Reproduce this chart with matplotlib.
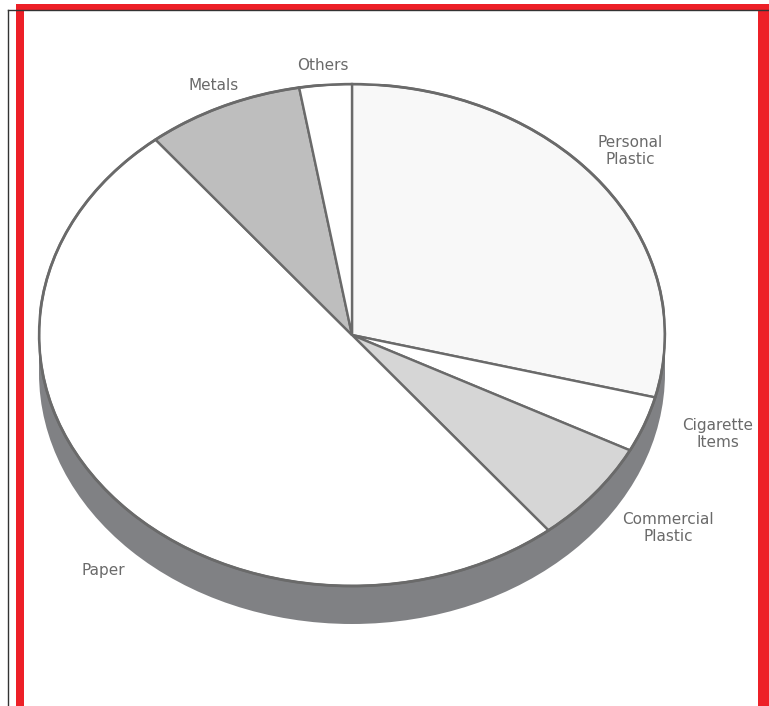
import matplotlib
matplotlib.use("Agg")
import matplotlib.pyplot as plt
from matplotlib.patches import Circle, Rectangle

# Litter composition (share of items, %)
categories = ["Personal\nPlastic", "Cigarette\nItems", "Commercial\nPlastic",
              "Paper", "Metals", "Others"]
shares = [29.0, 3.6, 6.6, 50.0, 8.1, 2.7]
face_colors = ["#f8f8f8", "#ffffff", "#d6d6d6", "#ffffff", "#bebebe", "#ffffff"]

W, H = 769, 706
fig = plt.figure(figsize=(W / 100, H / 100), dpi=100)
fig.patch.set_facecolor("white")

# Pie geometry in pixels: top face ellipse centre, semi-axes, extrusion depth
cx, cy, a, b, depth = 352, 335, 313, 251, 38
d = depth / b

ax = fig.add_axes([(cx - a) / W, (H - (cy + b + depth)) / H,
                   2 * a / W, (2 * b + depth) / H])
wedges, _ = ax.pie(shares, startangle=90, counterclock=False,
                   colors=face_colors, radius=1.0,
                   wedgeprops=dict(edgecolor="#6a6a6a", linewidth=1.7))
for w in wedges:
    w.set_zorder(3)

# Side of the extruded pie
side = "#808184"
ax.add_patch(Circle((0, -d), 1.0, facecolor=side, edgecolor="none", zorder=1))
ax.add_patch(Rectangle((-1, -d), 2, d, facecolor=side, edgecolor="none", zorder=1))
# Rim of the top face
ax.add_patch(Circle((0, 0), 1.0, facecolor="none", edgecolor="#6a6a6a",
                    linewidth=2.0, zorder=4))

ax.set_xlim(-1, 1)
ax.set_ylim(-1 - d, 1)
ax.set_aspect("auto")
ax.axis("off")

# Overlay in pixel coordinates for labels and frame
ov = fig.add_axes([0, 0, 1, 1], facecolor="none")
ov.set_xlim(0, W)
ov.set_ylim(H, 0)
ov.axis("off")

label_pos = [(630, 151), (718, 434), (668, 528), (103, 570), (214, 86), (323, 65)]
for name, (lx, ly) in zip(categories, label_pos):
    ov.text(lx, ly, name, ha="center", va="center", multialignment="center",
            fontsize=11, color="#6a6a6a", family="DejaVu Sans",
            linespacing=1.1)

red = "#ed2027"
ov.add_patch(Rectangle((16, 4), 751, 6, facecolor=red, edgecolor="none", zorder=5))
ov.add_patch(Rectangle((16, 4), 8, 710, facecolor=red, edgecolor="none", zorder=5))
ov.add_patch(Rectangle((758, 4), 11, 710, facecolor=red, edgecolor="none", zorder=5))
ov.plot([8, 8], [10, 706], color="#333333", linewidth=1.0, zorder=6)
ov.plot([8, 769], [10, 10], color="#333333", linewidth=1.0, zorder=6)

fig.savefig("out.png", dpi=100)
